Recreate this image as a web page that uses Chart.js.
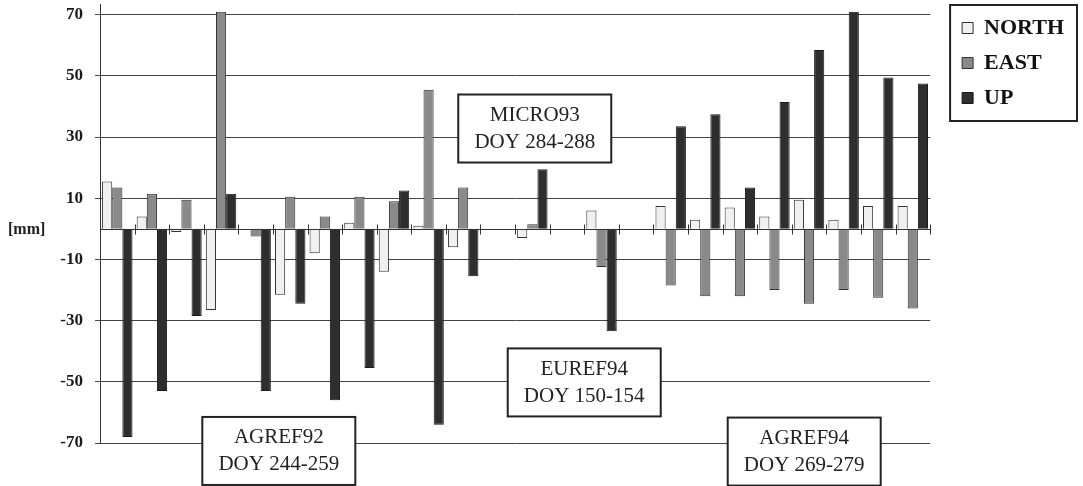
<!DOCTYPE html>
<html>
<head>
<meta charset="utf-8">
<script src="https://cdn.jsdelivr.net/npm/chart.js@4.4.1/dist/chart.umd.min.js"></script>
<style>
  html, body { margin: 0; padding: 0; background: #fff; }
  #wrap { width: 1083px; height: 486px; position: relative; }
</style>
</head>
<body>
<div id="wrap"><canvas id="chart"></canvas></div>
<script>
// station solutions, 24 slots (empty slots separate the campaigns)
const stations = ['1','2','3','4','5','6','7','8','9','10','11','12',
                  '13','14','15','16','17','18','19','20','21','22','23','24'];
const north = [15.5, 4, -1, -26.5, null, -21.5, -8, 2, -14, 1, -6, null,
               -3, null, 6, null, 7.5, 3, 7, 4, 9.5, 3, 7.5, 7.5];
const east  = [13.5, 11.5, 9.5, 71, -2.5, 10.5, 4, 10.5, 9, 45.5, 13.5, null,
               1.5, null, -12.5, null, -18.5, -22, -22, -20, -24.5, -20, -22.5, -26];
const up    = [-68, -53, -28.5, 11.5, -53, -24.5, -56, -45.5, 12.5, -64, -15.5, null,
               19.5, null, -33.5, null, 33.5, 37.5, 13.5, 41.5, 58.5, 71, 49.5, 47.5];
const yTicks = [-70, -50, -30, -10, 10, 30, 50, 70];

const campaignNames = ['AGREF92', 'MICRO93', 'EUREF94', 'AGREF94'];
const campaignDays  = ['DOY 244-259', 'DOY 284-288', 'DOY 150-154', 'DOY 269-279'];
// where the boxes sit, in axis units (category index, mm)
const boxAt = [{x: 4.67, y: -72.6}, {x: 12.07, y: 32.8}, {x: 13.5, y: -50.2}, {x: 19.86, y: -72.8}];

const serif = "'Liberation Serif', 'Times New Roman', serif";

const extras = {
  id: 'extras',
  afterDatasetsDraw(chart) {
    const ctx = chart.ctx;
    const xs = chart.scales.x, ys = chart.scales.y;
    const y0 = Math.round(ys.getPixelForValue(0)) + 0.5;
    const step = xs.getPixelForValue(1) - xs.getPixelForValue(0);
    const area = chart.chartArea;

    ctx.save();
    ctx.strokeStyle = '#333';
    ctx.lineWidth = 1;
    ctx.beginPath();
    // zero line
    ctx.moveTo(area.left, y0);
    ctx.lineTo(area.right, y0);
    // small ticks crossing the zero line between stations
    for (let i = 0; i <= stations.length; i++) {
      const px = Math.round(xs.getPixelForValue(i) - step / 2) + 0.5;
      ctx.moveTo(px, y0 - 5);
      ctx.lineTo(px, y0 + 5);
    }
    ctx.stroke();

    // [mm] label
    ctx.fillStyle = '#222';
    ctx.font = 'bold 16px ' + serif;
    ctx.textBaseline = 'middle';
    ctx.textAlign = 'left';
    ctx.fillText('[mm]', 8, y0);

    // campaign boxes
    ctx.font = '21px ' + serif;
    ctx.textAlign = 'center';
    campaignNames.forEach((name, i) => {
      const cx = xs.getPixelForValue(boxAt[i].x);
      const cy = ys.getPixelForValue(boxAt[i].y);
      const w = 153, h = 68;
      ctx.fillStyle = '#fff';
      ctx.fillRect(cx - w / 2, cy - h / 2, w, h);
      ctx.lineWidth = 2;
      ctx.strokeStyle = '#222';
      ctx.strokeRect(cx - w / 2, cy - h / 2, w, h);
      ctx.fillStyle = '#222';
      ctx.fillText(name, cx, cy - 13);
      ctx.fillText(campaignDays[i], cx, cy + 14);
    });
    ctx.restore();
  },
  afterDraw(chart) {
    // frame round the legend items
    const lg = chart.legend;
    const boxes = lg.legendHitBoxes;
    const last = boxes[boxes.length - 1];
    const ctx = chart.ctx;
    ctx.save();
    ctx.lineWidth = 2;
    ctx.strokeStyle = '#222';
    const left = lg.left + 1, top = lg.top + 1;
    ctx.strokeRect(left, top, chart.width - 6 - left, last.top + last.height + 12 - top);
    ctx.restore();
  }
};

new Chart(document.getElementById('chart'), {
  type: 'bar',
  data: {
    labels: stations,
    datasets: [
      { label: 'NORTH', data: north, backgroundColor: '#f0f0f0', borderColor: '#333', borderWidth: 1 },
      { label: 'EAST',  data: east,  backgroundColor: '#8a8a8a', borderColor: '#333', borderWidth: 1 },
      { label: 'UP',    data: up,    backgroundColor: '#2e2e2e', borderColor: '#1a1a1a', borderWidth: 1 },
    ],
  },
  options: {
    responsive: true,
    maintainAspectRatio: false,
    animation: false,
    layout: { padding: { top: 4, bottom: 43, left: 0, right: 9 } },
    datasets: { bar: { categoryPercentage: 0.88, barPercentage: 1.0 } },
    plugins: {
      legend: {
        position: 'right',
        align: 'start',
        labels: {
          boxWidth: 11,
          boxHeight: 11,
          padding: 13,
          color: '#111',
          font: { family: serif, size: 22, weight: 'bold' },
        },
      },
      tooltip: { enabled: false },
    },
    scales: {
      x: { display: false },
      y: {
        min: -70,
        max: 73.5,
        afterBuildTicks(s) { s.ticks = yTicks.map(v => ({ value: v })); },
        afterFit(s) { s.width = 100; s.paddingTop = 0; s.paddingBottom = 0; },
        grid: { color: '#444', tickLength: 5 },
        border: { display: true, color: '#333' },
        ticks: { padding: 12, color: '#1a1a1a', font: { family: serif, size: 17, weight: 'bold' } },
      },
      gap: {
        type: 'linear',
        position: 'right',
        display: true,
        grid: { display: false },
        border: { display: false },
        ticks: { display: false },
        afterFit(s) { s.width = 19; s.paddingTop = 0; s.paddingBottom = 0; },
      },
    },
  },
  plugins: [extras],
});
</script>
</body>
</html>
